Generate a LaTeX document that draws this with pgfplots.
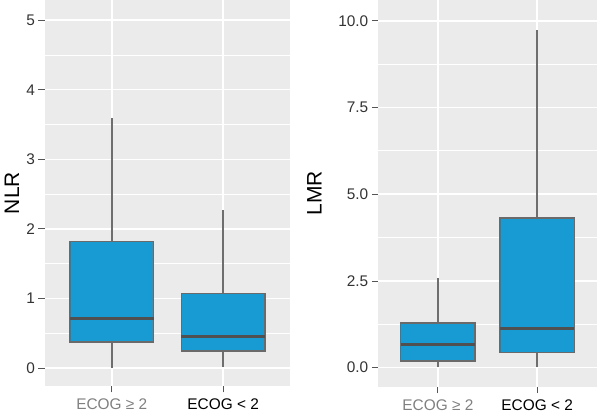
\documentclass[border=0pt]{standalone}
\usepackage{fontspec}
\setmainfont{Liberation Sans}
\usepackage{pgfplots}
\pgfplotsset{compat=1.18}
\usepgfplotslibrary{statistics}

\definecolor{bggray}{HTML}{EBEBEB}
\definecolor{boxfill}{HTML}{189BD3}
\definecolor{boxline}{HTML}{6A6A6A}
\definecolor{medline}{HTML}{505050}
\definecolor{whisk}{HTML}{6E6E6E}
\definecolor{tickgray}{HTML}{555555}
\definecolor{numgray}{HTML}{333333}
\definecolor{labgray}{HTML}{808080}

\pgfplotsset{
  ggbox/.style={
    scale only axis, anchor=south west,
    axis background/.style={fill=bggray},
    axis line style={draw=none},
    enlargelimits=false,
    xmin=0.4, xmax=2.6,
    xtick={1,2},
    xticklabels={{\color{labgray}ECOG ≥ 2},{\color{black}ECOG < 2}},
    xtick pos=left, ytick pos=left,
    tick align=outside,
    major tick length=6.5pt,
    tick style={draw=tickgray, line width=0.8pt},
    minor tick style={draw=none},
    xmajorgrids, ymajorgrids, yminorgrids,
    major grid style={draw=white, line width=1.5pt},
    minor grid style={draw=white, line width=0.75pt},
    ticklabel style={font=\fontsize{15.4}{16}\selectfont, text=numgray},
    xticklabel style={yshift=-3pt},
    /pgf/number format/assume math mode=true,
    boxplot/draw direction=y,
    boxplot/box extend=0.75,
    boxplot/whisker extend=0,
    boxplot/every box/.style={draw=boxline, fill=boxfill, line width=1.6pt},
    boxplot/every whisker/.style={draw=whisk, line width=1.5pt},
    boxplot/every median/.style={draw=medline, line width=3pt},
  }
}

\begin{document}
\begin{tikzpicture}
\useasboundingbox (0,0) rectangle (604pt,414pt);

\begin{axis}[ggbox,
  at={(45pt,28pt)}, width=245pt, height=386pt,
  ymin=-0.26, ymax=5.29,
  ytick={0,1,2,3,4,5},
  minor ytick={0.5,1.5,2.5,3.5,4.5},
  ylabel={NLR},
  every axis y label/.style={at={(rel axis cs:0,0.5)}, xshift=-33pt, rotate=90, anchor=center, font=\fontsize{21}{23}\selectfont},
]
\addplot+[boxplot prepared={draw position=1, lower whisker=0.0, lower quartile=0.374, median=0.715, upper quartile=1.82, upper whisker=3.59}, draw=boxline, fill=boxfill, mark=none] coordinates {};
\addplot+[boxplot prepared={draw position=2, lower whisker=0.015, lower quartile=0.24, median=0.456, upper quartile=1.07, upper whisker=2.27}, draw=boxline, fill=boxfill, mark=none] coordinates {};
\end{axis}

\begin{axis}[ggbox,
  at={(378.3pt,27.3pt)}, width=218.4pt, height=386.7pt,
  ymin=-0.55, ymax=10.6,
  ytick={0,2.5,5,7.5,10},
  minor ytick={1.25,3.75,6.25,8.75},
  yticklabel style={/pgf/number format/.cd, fixed, fixed zerofill, precision=1},
  ylabel={LMR},
  every axis y label/.style={at={(rel axis cs:0,0.5)}, xshift=-64pt, rotate=90, anchor=center, font=\fontsize{21}{23}\selectfont},
]
\addplot+[boxplot prepared={draw position=1, lower whisker=0.03, lower quartile=0.19, median=0.67, upper quartile=1.28, upper whisker=2.59}, draw=boxline, fill=boxfill, mark=none] coordinates {};
\addplot+[boxplot prepared={draw position=2, lower whisker=0.03, lower quartile=0.44, median=1.12, upper quartile=4.31, upper whisker=9.73}, draw=boxline, fill=boxfill, mark=none] coordinates {};
\end{axis}
\end{tikzpicture}
\end{document}
